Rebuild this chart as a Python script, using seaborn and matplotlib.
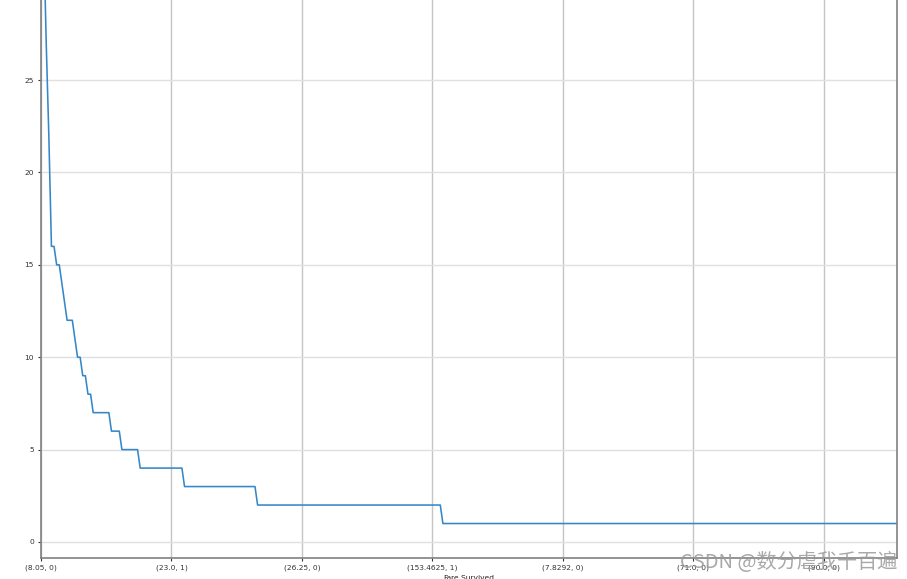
import numpy as np
import pandas as pd
import matplotlib
matplotlib.use("Agg")
import matplotlib.pyplot as plt
import seaborn as sns

count_levels = [38, 33, 27, 22, 16, 15, 14, 13, 12, 11, 10, 9, 8, 7, 6, 5, 4, 3, 2, 1]
run_lengths = [1, 1, 1, 1, 2, 2, 1, 1, 3, 1, 2, 2, 2, 7, 4, 7, 17, 28, 71, 175]

# labels shown on the x axis (every 50th pair)
tick_labels = ['(8.05, 0)', '(23.0, 1)', '(26.25, 0)', '(153.4625, 1)',
               '(7.8292, 0)', '(71.0, 0)', '(90.0, 0)']

counts = np.repeat(count_levels, run_lengths)
df = pd.DataFrame({'pos': np.arange(len(counts)), 'count': counts})

sns.set_style("white")
plt.rcParams['font.family'] = ['DejaVu Sans']

fig = plt.figure(figsize=(9.07, 5.79), dpi=100)
# the original screenshot is cropped at the top, so the axes run past the figure
ax = fig.add_axes([41 / 907, 21.3 / 579, 856 / 907, 752 / 579])

sns.lineplot(data=df, x='pos', y='count', ax=ax, color='#3587c8', linewidth=1.15)

ax.set_xlim(0, len(counts) - 1)
ymin, ymax = counts.min(), counts.max()
pad = (ymax - ymin) * 0.05
ax.set_ylim(ymin - pad, ymax + pad)

ax.set_xticks(np.arange(0, 50 * len(tick_labels), 50))
ax.set_xticklabels(tick_labels)
ax.set_yticks(np.arange(0, 26, 5))

ax.xaxis.grid(True, color='#c4c4c4', linewidth=1.0)
ax.yaxis.grid(True, color='#e0e0e0', linewidth=1.0)
ax.set_axisbelow(True)

ax.tick_params(axis='both', labelsize=5.4, colors='#333333', length=2.5,
               width=0.8, pad=2.5, bottom=True, left=True)
for side in ['left', 'right', 'bottom', 'top']:
    ax.spines[side].set_color('#808080')
    ax.spines[side].set_linewidth(1.2)

ax.set_xlabel('Fare,Survived', fontsize=5.4, color='#222222', labelpad=2.5)
ax.set_ylabel('')

# CSDN watermark in the bottom right corner
fig.text(680 / 907, 1 - 562 / 579, 'CSDN @数分虐我千百遍', fontsize=14.5,
         color='#9a9a9a', alpha=0.85, va='center', ha='left',
         family=['Noto Sans CJK SC', 'DejaVu Sans'])

fig.savefig('out.png', dpi=100)
